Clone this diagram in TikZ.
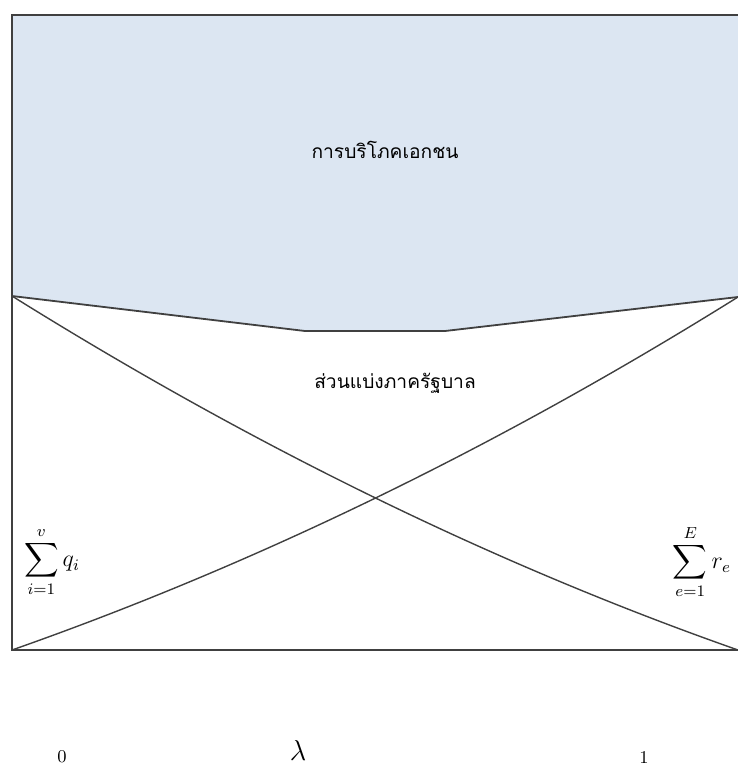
\documentclass[tikz,border=0pt]{standalone}
\usepackage{amsmath}
\usepackage{fontspec}
\newfontfamily\thaifont[Script=Thai]{Loma}
\usetikzlibrary{positioning, calc}
\definecolor{relleno}{HTML}{DCE6F2}
\definecolor{linea}{HTML}{404040}

\begin{document}
\begin{tikzpicture}[
				x=0.5pt, y=-0.5pt,
				marco/.style={draw=linea, line width=1pt},
				curva/.style={draw=linea, line width=0.7pt},
				texto/.style={font=\thaifont\fontsize{9.6pt}{12pt}\selectfont, inner sep=0pt},
				suma/.style={font=\fontsize{12pt}{14pt}\selectfont, inner sep=0pt},
				eje/.style={font=\fontsize{9pt}{10pt}\selectfont, inner sep=0pt}
				]
				\useasboundingbox (0,0) rectangle (738,767);
				
				% Esquinas
				\coordinate (SI) at (12,15);
				\coordinate (SD) at (738,15);
				\coordinate (II) at (12,650);
				\coordinate (ID) at (738,650);
				\coordinate (MI) at (12,296);
				\coordinate (MD) at (738,297);
				\coordinate (P1) at (305,331);
				\coordinate (P2) at (445,331);
				
				% Region superior
				\fill[relleno] (SI) -- (SD) -- (MD) -- (P2) -- (P1) -- (MI) -- cycle;
				\draw[curva, line width=0.9pt] (MI) -- (P1) -- (P2) -- (MD);
				
				% Curvas
				\draw[curva] (MI) .. controls (254,447) and (496,565) .. (ID);
				\draw[curva] (II) .. controls (254,565) and (496,448) .. (MD);
				
				% Marco
				\draw[marco] (SD) -- (SI) -- (II) -- (ID);
				
				% Textos
				\node[texto] (privado) at (385,150) {การบริโภคเอกชน};
				\node[texto] (gobierno) at (395,383) {ส่วนแบ่งภาครัฐบาล};
				
				% Sumas
				\node[suma] (sumaq) at (52,562) {$\displaystyle\sum_{i=1}^{v} q_i$};
				\node[suma] (sumar) at (702,562) {$\displaystyle\sum_{e=1}^{E} r_e$};
				
				% Eje
				\node[eje] (cero) at (62,757) {0};
				\node[font=\fontsize{14pt}{15pt}\selectfont, inner sep=0pt] (lambda) at (298,750) {$\lambda$};
				\node[eje] (uno) at (644,757) {1};
				
			\end{tikzpicture}
\end{document}
